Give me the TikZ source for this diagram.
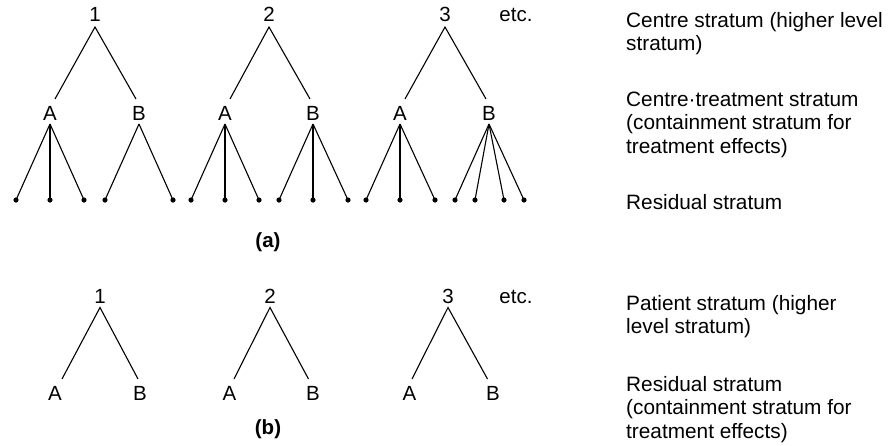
\documentclass[tikz,border=0pt]{standalone}
\usepackage{fontspec}
\setmainfont{Liberation Sans}
\begin{document}
\begin{tikzpicture}[x=1pt,y=-1pt,
  lbl/.style={inner sep=0pt,anchor=base,font=\fontsize{20.5}{24}\selectfont},
  side/.style={inner sep=0pt,anchor=base west,align=left,font=\fontsize{20.8}{23.5}\selectfont},
  partlbl/.style={inner sep=0pt,anchor=base,font=\fontsize{20.5}{24}\selectfont\bfseries},
  dot/.style={circle,fill=black,inner sep=0pt,minimum size=5.2pt},
  edge/.style={line width=1.1pt}]
\useasboundingbox (0,0) rectangle (892,445);

% ---------- (a) ----------
% tree 1
\node[lbl] (a1) at (95,21) {1};
\node[lbl] (a1A) at (50,120) {A};
\node[lbl] (a1B) at (139,120) {B};
\draw[edge] ([xshift=5pt,yshift=21pt]a1A.base) -- ([yshift=-6pt]a1.base) -- ([xshift=-3pt,yshift=21pt]a1B.base);
\node[dot] (a1l1) at (16,200) {};
\node[dot] (a1l2) at (50,200) {};
\node[dot] (a1l3) at (84,200) {};
\node[dot] (a1l4) at (105,200) {};
\node[dot] (a1l5) at (173,200) {};
\draw[edge] ([yshift=-4pt]a1A.base) -- (a1l1.center);
\draw[edge] ([yshift=-4pt]a1A.base) -- (a1l2.center);
\draw[edge] ([yshift=-4pt]a1A.base) -- (a1l3.center);
\draw[edge] ([yshift=-4pt]a1B.base) -- (a1l4.center);
\draw[edge] ([yshift=-4pt]a1B.base) -- (a1l5.center);

% tree 2
\node[lbl] (a2) at (269,21) {2};
\node[lbl] (a2A) at (225,120) {A};
\node[lbl] (a2B) at (313,120) {B};
\draw[edge] ([xshift=5pt,yshift=21pt]a2A.base) -- ([yshift=-6pt]a2.base) -- ([xshift=-3pt,yshift=21pt]a2B.base);
\node[dot] (a2l1) at (191,200) {};
\node[dot] (a2l2) at (225,200) {};
\node[dot] (a2l3) at (259,200) {};
\node[dot] (a2l4) at (279,200) {};
\node[dot] (a2l5) at (313,200) {};
\node[dot] (a2l6) at (348,200) {};
\draw[edge] ([yshift=-4pt]a2A.base) -- (a2l1.center);
\draw[edge] ([yshift=-4pt]a2A.base) -- (a2l2.center);
\draw[edge] ([yshift=-4pt]a2A.base) -- (a2l3.center);
\draw[edge] ([yshift=-4pt]a2B.base) -- (a2l4.center);
\draw[edge] ([yshift=-4pt]a2B.base) -- (a2l5.center);
\draw[edge] ([yshift=-4pt]a2B.base) -- (a2l6.center);

% tree 3
\node[lbl] (a3) at (445,21) {3};
\node[lbl] (a3A) at (400,120) {A};
\node[lbl] (a3B) at (489,120) {B};
\draw[edge] ([xshift=5pt,yshift=21pt]a3A.base) -- ([yshift=-6pt]a3.base) -- ([xshift=-3pt,yshift=21pt]a3B.base);
\node[dot] (a3l1) at (366,200) {};
\node[dot] (a3l2) at (400,200) {};
\node[dot] (a3l3) at (435,200) {};
\node[dot] (a3l4) at (455,200) {};
\node[dot] (a3l5) at (475,200) {};
\node[dot] (a3l6) at (504,200) {};
\node[dot] (a3l7) at (524,200) {};
\draw[edge] ([yshift=-4pt]a3A.base) -- (a3l1.center);
\draw[edge] ([yshift=-4pt]a3A.base) -- (a3l2.center);
\draw[edge] ([yshift=-4pt]a3A.base) -- (a3l3.center);
\draw[edge] ([yshift=-4pt]a3B.base) -- (a3l4.center);
\draw[edge] ([yshift=-4pt]a3B.base) -- (a3l5.center);
\draw[edge] ([yshift=-4pt]a3B.base) -- (a3l6.center);
\draw[edge] ([yshift=-4pt]a3B.base) -- (a3l7.center);

\node[lbl] (aetc) at (516,21) {etc.};
\node[partlbl] (acap) at (268,247) {(a)};

% ---------- (b) ----------
\node[lbl] (b1) at (100,303) {1};
\node[lbl] (b1A) at (55,400) {A};
\node[lbl] (b1B) at (140,400) {B};
\draw[edge] ([xshift=7pt,yshift=21pt]b1A.base) -- ([yshift=-4.5pt]b1.base) -- ([xshift=-2pt,yshift=21pt]b1B.base);

\node[lbl] (b2) at (270,303) {2};
\node[lbl] (b2A) at (229.5,400) {A};
\node[lbl] (b2B) at (313,400) {B};
\draw[edge] ([xshift=4.5pt,yshift=21pt]b2A.base) -- ([yshift=-4.5pt]b2.base) -- ([xshift=-4.5pt,yshift=21pt]b2B.base);

\node[lbl] (b3) at (448,303) {3};
\node[lbl] (b3A) at (409.5,400) {A};
\node[lbl] (b3B) at (493,400) {B};
\draw[edge] ([xshift=2.5pt,yshift=21pt]b3A.base) -- ([yshift=-4.5pt]b3.base) -- ([xshift=-5.5pt,yshift=21pt]b3B.base);

\node[lbl] (betc) at (516,303) {etc.};
\node[partlbl] (bcap) at (268,434) {(b)};

% ---------- side texts (anchored at the baseline of the last line) ----------
\node[side] (s1) at (626,50.5) {Centre stratum (higher level\\stratum)};
\node[side] (s2) at (626,153) {Centre·treatment stratum\\(containment stratum for\\treatment effects)};
\node[side] (s3) at (626,209) {Residual stratum};
\node[side] (s4) at (626,333.5) {Patient stratum (higher\\level stratum)};
\node[side] (s5) at (626,438) {Residual stratum\\(containment stratum for\\treatment effects)};
\end{tikzpicture}
\end{document}
